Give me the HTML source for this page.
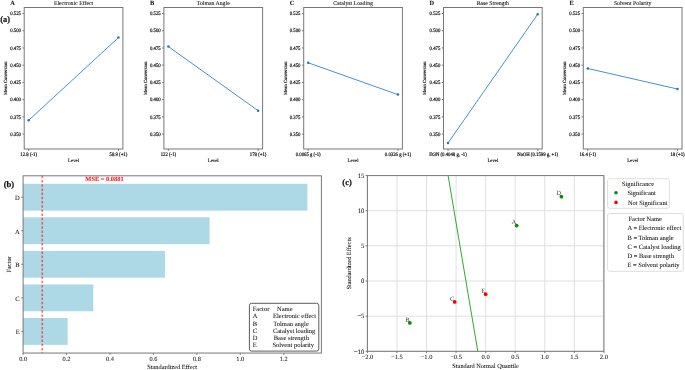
<!DOCTYPE html>
<html><head><meta charset="utf-8"><style>
html,body{margin:0;padding:0;background:#fff;width:685px;height:370px;overflow:hidden}
svg{display:block;font-family:"Liberation Serif", serif;will-change:transform;text-rendering:geometricPrecision}
</style></head><body>
<svg width="685" height="370" viewBox="0 0 685 370">
<rect x="24.20" y="7.50" width="98.70" height="141.50" fill="none" stroke="#777777" stroke-width="1.0" rx="0" />
<line x1="22.40" y1="134.09" x2="24.20" y2="134.09" stroke="#777777" stroke-width="1.0" />
<text transform="translate(21.00,135.79) scale(0.9,1)" font-size="5.3" text-anchor="end" font-weight="normal" fill="#111" stroke="#111" stroke-width="0.2" >0.350</text>
<line x1="22.40" y1="116.87" x2="24.20" y2="116.87" stroke="#777777" stroke-width="1.0" />
<text transform="translate(21.00,118.57) scale(0.9,1)" font-size="5.3" text-anchor="end" font-weight="normal" fill="#111" stroke="#111" stroke-width="0.2" >0.375</text>
<line x1="22.40" y1="99.64" x2="24.20" y2="99.64" stroke="#777777" stroke-width="1.0" />
<text transform="translate(21.00,101.34) scale(0.9,1)" font-size="5.3" text-anchor="end" font-weight="normal" fill="#111" stroke="#111" stroke-width="0.2" >0.400</text>
<line x1="22.40" y1="82.41" x2="24.20" y2="82.41" stroke="#777777" stroke-width="1.0" />
<text transform="translate(21.00,84.11) scale(0.9,1)" font-size="5.3" text-anchor="end" font-weight="normal" fill="#111" stroke="#111" stroke-width="0.2" >0.425</text>
<line x1="22.40" y1="65.18" x2="24.20" y2="65.18" stroke="#777777" stroke-width="1.0" />
<text transform="translate(21.00,66.88) scale(0.9,1)" font-size="5.3" text-anchor="end" font-weight="normal" fill="#111" stroke="#111" stroke-width="0.2" >0.450</text>
<line x1="22.40" y1="47.96" x2="24.20" y2="47.96" stroke="#777777" stroke-width="1.0" />
<text transform="translate(21.00,49.66) scale(0.9,1)" font-size="5.3" text-anchor="end" font-weight="normal" fill="#111" stroke="#111" stroke-width="0.2" >0.475</text>
<line x1="22.40" y1="30.73" x2="24.20" y2="30.73" stroke="#777777" stroke-width="1.0" />
<text transform="translate(21.00,32.43) scale(0.9,1)" font-size="5.3" text-anchor="end" font-weight="normal" fill="#111" stroke="#111" stroke-width="0.2" >0.500</text>
<line x1="22.40" y1="13.50" x2="24.20" y2="13.50" stroke="#777777" stroke-width="1.0" />
<text transform="translate(21.00,15.20) scale(0.9,1)" font-size="5.3" text-anchor="end" font-weight="normal" fill="#111" stroke="#111" stroke-width="0.2" >0.525</text>
<line x1="28.69" y1="149.00" x2="28.69" y2="150.80" stroke="#777777" stroke-width="1.0" />
<text transform="translate(28.69,155.90) scale(0.9,1)" font-size="5.3" text-anchor="middle" font-weight="normal" fill="#111" stroke="#111" stroke-width="0.2" >12.8 (-1)</text>
<line x1="118.41" y1="149.00" x2="118.41" y2="150.80" stroke="#777777" stroke-width="1.0" />
<text transform="translate(118.41,155.90) scale(0.9,1)" font-size="5.3" text-anchor="middle" font-weight="normal" fill="#111" stroke="#111" stroke-width="0.2" >58.9 (+1)</text>
<text x="73.55" y="161.60" font-size="4.8" text-anchor="middle" font-weight="normal" fill="#111" stroke="#111" stroke-width="0.15" >Level</text>
<text transform="translate(6.10,78.2) rotate(-90)" x="0" y="0" font-size="4.7" text-anchor="middle" fill="#111" stroke="#111" stroke-width="0.15" dominant-baseline="middle">Mean Conversion</text>
<text x="73.55" y="4.90" font-size="5.8" text-anchor="middle" font-weight="normal" fill="#111" stroke="#111" stroke-width="0.08" >Electronic Effect</text>
<text x="10.30" y="4.75" font-size="6.4" text-anchor="start" font-weight="bold" fill="#111" stroke="#111" stroke-width="0.05" >A</text>
<polyline points="28.69,120.31 118.41,37.62" fill="none" stroke="#4590cc" stroke-width="1.0"/>
<circle cx="28.69" cy="120.31" r="1.25" fill="#1f77b4"/>
<circle cx="118.41" cy="37.62" r="1.25" fill="#1f77b4"/>
<rect x="163.90" y="7.50" width="98.70" height="141.50" fill="none" stroke="#777777" stroke-width="1.0" rx="0" />
<line x1="162.10" y1="134.09" x2="163.90" y2="134.09" stroke="#777777" stroke-width="1.0" />
<text transform="translate(160.70,135.79) scale(0.9,1)" font-size="5.3" text-anchor="end" font-weight="normal" fill="#111" stroke="#111" stroke-width="0.2" >0.350</text>
<line x1="162.10" y1="116.87" x2="163.90" y2="116.87" stroke="#777777" stroke-width="1.0" />
<text transform="translate(160.70,118.57) scale(0.9,1)" font-size="5.3" text-anchor="end" font-weight="normal" fill="#111" stroke="#111" stroke-width="0.2" >0.375</text>
<line x1="162.10" y1="99.64" x2="163.90" y2="99.64" stroke="#777777" stroke-width="1.0" />
<text transform="translate(160.70,101.34) scale(0.9,1)" font-size="5.3" text-anchor="end" font-weight="normal" fill="#111" stroke="#111" stroke-width="0.2" >0.400</text>
<line x1="162.10" y1="82.41" x2="163.90" y2="82.41" stroke="#777777" stroke-width="1.0" />
<text transform="translate(160.70,84.11) scale(0.9,1)" font-size="5.3" text-anchor="end" font-weight="normal" fill="#111" stroke="#111" stroke-width="0.2" >0.425</text>
<line x1="162.10" y1="65.18" x2="163.90" y2="65.18" stroke="#777777" stroke-width="1.0" />
<text transform="translate(160.70,66.88) scale(0.9,1)" font-size="5.3" text-anchor="end" font-weight="normal" fill="#111" stroke="#111" stroke-width="0.2" >0.450</text>
<line x1="162.10" y1="47.96" x2="163.90" y2="47.96" stroke="#777777" stroke-width="1.0" />
<text transform="translate(160.70,49.66) scale(0.9,1)" font-size="5.3" text-anchor="end" font-weight="normal" fill="#111" stroke="#111" stroke-width="0.2" >0.475</text>
<line x1="162.10" y1="30.73" x2="163.90" y2="30.73" stroke="#777777" stroke-width="1.0" />
<text transform="translate(160.70,32.43) scale(0.9,1)" font-size="5.3" text-anchor="end" font-weight="normal" fill="#111" stroke="#111" stroke-width="0.2" >0.500</text>
<line x1="162.10" y1="13.50" x2="163.90" y2="13.50" stroke="#777777" stroke-width="1.0" />
<text transform="translate(160.70,15.20) scale(0.9,1)" font-size="5.3" text-anchor="end" font-weight="normal" fill="#111" stroke="#111" stroke-width="0.2" >0.525</text>
<line x1="168.39" y1="149.00" x2="168.39" y2="150.80" stroke="#777777" stroke-width="1.0" />
<text transform="translate(168.39,155.90) scale(0.9,1)" font-size="5.3" text-anchor="middle" font-weight="normal" fill="#111" stroke="#111" stroke-width="0.2" >122 (-1)</text>
<line x1="258.11" y1="149.00" x2="258.11" y2="150.80" stroke="#777777" stroke-width="1.0" />
<text transform="translate(258.11,155.90) scale(0.9,1)" font-size="5.3" text-anchor="middle" font-weight="normal" fill="#111" stroke="#111" stroke-width="0.2" >178 (+1)</text>
<text x="213.25" y="161.60" font-size="4.8" text-anchor="middle" font-weight="normal" fill="#111" stroke="#111" stroke-width="0.15" >Level</text>
<text transform="translate(145.80,78.2) rotate(-90)" x="0" y="0" font-size="4.7" text-anchor="middle" fill="#111" stroke="#111" stroke-width="0.15" dominant-baseline="middle">Mean Conversion</text>
<text x="213.25" y="4.90" font-size="5.8" text-anchor="middle" font-weight="normal" fill="#111" stroke="#111" stroke-width="0.08" >Tolman Angle</text>
<text x="150.00" y="4.75" font-size="6.4" text-anchor="start" font-weight="bold" fill="#111" stroke="#111" stroke-width="0.05" >B</text>
<polyline points="168.39,46.58 258.11,110.66" fill="none" stroke="#4590cc" stroke-width="1.0"/>
<circle cx="168.39" cy="46.58" r="1.25" fill="#1f77b4"/>
<circle cx="258.11" cy="110.66" r="1.25" fill="#1f77b4"/>
<rect x="303.70" y="7.50" width="98.70" height="141.50" fill="none" stroke="#777777" stroke-width="1.0" rx="0" />
<line x1="301.90" y1="134.09" x2="303.70" y2="134.09" stroke="#777777" stroke-width="1.0" />
<text transform="translate(300.50,135.79) scale(0.9,1)" font-size="5.3" text-anchor="end" font-weight="normal" fill="#111" stroke="#111" stroke-width="0.2" >0.350</text>
<line x1="301.90" y1="116.87" x2="303.70" y2="116.87" stroke="#777777" stroke-width="1.0" />
<text transform="translate(300.50,118.57) scale(0.9,1)" font-size="5.3" text-anchor="end" font-weight="normal" fill="#111" stroke="#111" stroke-width="0.2" >0.375</text>
<line x1="301.90" y1="99.64" x2="303.70" y2="99.64" stroke="#777777" stroke-width="1.0" />
<text transform="translate(300.50,101.34) scale(0.9,1)" font-size="5.3" text-anchor="end" font-weight="normal" fill="#111" stroke="#111" stroke-width="0.2" >0.400</text>
<line x1="301.90" y1="82.41" x2="303.70" y2="82.41" stroke="#777777" stroke-width="1.0" />
<text transform="translate(300.50,84.11) scale(0.9,1)" font-size="5.3" text-anchor="end" font-weight="normal" fill="#111" stroke="#111" stroke-width="0.2" >0.425</text>
<line x1="301.90" y1="65.18" x2="303.70" y2="65.18" stroke="#777777" stroke-width="1.0" />
<text transform="translate(300.50,66.88) scale(0.9,1)" font-size="5.3" text-anchor="end" font-weight="normal" fill="#111" stroke="#111" stroke-width="0.2" >0.450</text>
<line x1="301.90" y1="47.96" x2="303.70" y2="47.96" stroke="#777777" stroke-width="1.0" />
<text transform="translate(300.50,49.66) scale(0.9,1)" font-size="5.3" text-anchor="end" font-weight="normal" fill="#111" stroke="#111" stroke-width="0.2" >0.475</text>
<line x1="301.90" y1="30.73" x2="303.70" y2="30.73" stroke="#777777" stroke-width="1.0" />
<text transform="translate(300.50,32.43) scale(0.9,1)" font-size="5.3" text-anchor="end" font-weight="normal" fill="#111" stroke="#111" stroke-width="0.2" >0.500</text>
<line x1="301.90" y1="13.50" x2="303.70" y2="13.50" stroke="#777777" stroke-width="1.0" />
<text transform="translate(300.50,15.20) scale(0.9,1)" font-size="5.3" text-anchor="end" font-weight="normal" fill="#111" stroke="#111" stroke-width="0.2" >0.525</text>
<line x1="308.19" y1="149.00" x2="308.19" y2="150.80" stroke="#777777" stroke-width="1.0" />
<text transform="translate(308.19,155.90) scale(0.9,1)" font-size="5.3" text-anchor="middle" font-weight="normal" fill="#111" stroke="#111" stroke-width="0.2" >0.0065 g (-1)</text>
<line x1="397.91" y1="149.00" x2="397.91" y2="150.80" stroke="#777777" stroke-width="1.0" />
<text transform="translate(397.91,155.90) scale(0.9,1)" font-size="5.3" text-anchor="middle" font-weight="normal" fill="#111" stroke="#111" stroke-width="0.2" >0.0326 g (+1)</text>
<text x="353.05" y="161.60" font-size="4.8" text-anchor="middle" font-weight="normal" fill="#111" stroke="#111" stroke-width="0.15" >Level</text>
<text transform="translate(285.60,78.2) rotate(-90)" x="0" y="0" font-size="4.7" text-anchor="middle" fill="#111" stroke="#111" stroke-width="0.15" dominant-baseline="middle">Mean Conversion</text>
<text x="353.05" y="4.90" font-size="5.8" text-anchor="middle" font-weight="normal" fill="#111" stroke="#111" stroke-width="0.08" >Catalyst Loading</text>
<text x="289.80" y="4.75" font-size="6.4" text-anchor="start" font-weight="bold" fill="#111" stroke="#111" stroke-width="0.05" >C</text>
<polyline points="308.19,62.77 397.91,94.61" fill="none" stroke="#4590cc" stroke-width="1.0"/>
<circle cx="308.19" cy="62.77" r="1.25" fill="#1f77b4"/>
<circle cx="397.91" cy="94.61" r="1.25" fill="#1f77b4"/>
<rect x="443.50" y="7.50" width="98.70" height="141.50" fill="none" stroke="#777777" stroke-width="1.0" rx="0" />
<line x1="441.70" y1="134.09" x2="443.50" y2="134.09" stroke="#777777" stroke-width="1.0" />
<text transform="translate(440.30,135.79) scale(0.9,1)" font-size="5.3" text-anchor="end" font-weight="normal" fill="#111" stroke="#111" stroke-width="0.2" >0.350</text>
<line x1="441.70" y1="116.87" x2="443.50" y2="116.87" stroke="#777777" stroke-width="1.0" />
<text transform="translate(440.30,118.57) scale(0.9,1)" font-size="5.3" text-anchor="end" font-weight="normal" fill="#111" stroke="#111" stroke-width="0.2" >0.375</text>
<line x1="441.70" y1="99.64" x2="443.50" y2="99.64" stroke="#777777" stroke-width="1.0" />
<text transform="translate(440.30,101.34) scale(0.9,1)" font-size="5.3" text-anchor="end" font-weight="normal" fill="#111" stroke="#111" stroke-width="0.2" >0.400</text>
<line x1="441.70" y1="82.41" x2="443.50" y2="82.41" stroke="#777777" stroke-width="1.0" />
<text transform="translate(440.30,84.11) scale(0.9,1)" font-size="5.3" text-anchor="end" font-weight="normal" fill="#111" stroke="#111" stroke-width="0.2" >0.425</text>
<line x1="441.70" y1="65.18" x2="443.50" y2="65.18" stroke="#777777" stroke-width="1.0" />
<text transform="translate(440.30,66.88) scale(0.9,1)" font-size="5.3" text-anchor="end" font-weight="normal" fill="#111" stroke="#111" stroke-width="0.2" >0.450</text>
<line x1="441.70" y1="47.96" x2="443.50" y2="47.96" stroke="#777777" stroke-width="1.0" />
<text transform="translate(440.30,49.66) scale(0.9,1)" font-size="5.3" text-anchor="end" font-weight="normal" fill="#111" stroke="#111" stroke-width="0.2" >0.475</text>
<line x1="441.70" y1="30.73" x2="443.50" y2="30.73" stroke="#777777" stroke-width="1.0" />
<text transform="translate(440.30,32.43) scale(0.9,1)" font-size="5.3" text-anchor="end" font-weight="normal" fill="#111" stroke="#111" stroke-width="0.2" >0.500</text>
<line x1="441.70" y1="13.50" x2="443.50" y2="13.50" stroke="#777777" stroke-width="1.0" />
<text transform="translate(440.30,15.20) scale(0.9,1)" font-size="5.3" text-anchor="end" font-weight="normal" fill="#111" stroke="#111" stroke-width="0.2" >0.525</text>
<line x1="447.99" y1="149.00" x2="447.99" y2="150.80" stroke="#777777" stroke-width="1.0" />
<text transform="translate(447.99,155.90) scale(0.9,1)" font-size="5.3" text-anchor="middle" font-weight="normal" fill="#111" stroke="#111" stroke-width="0.2" >Et3N (0.4048 g, -1)</text>
<line x1="537.71" y1="149.00" x2="537.71" y2="150.80" stroke="#777777" stroke-width="1.0" />
<text transform="translate(537.71,155.90) scale(0.9,1)" font-size="5.3" text-anchor="middle" font-weight="normal" fill="#111" stroke="#111" stroke-width="0.2" >NaOH (0.1599 g, +1)</text>
<text x="492.85" y="161.60" font-size="4.8" text-anchor="middle" font-weight="normal" fill="#111" stroke="#111" stroke-width="0.15" >Level</text>
<text transform="translate(425.40,78.2) rotate(-90)" x="0" y="0" font-size="4.7" text-anchor="middle" fill="#111" stroke="#111" stroke-width="0.15" dominant-baseline="middle">Mean Conversion</text>
<text x="492.85" y="4.90" font-size="5.8" text-anchor="middle" font-weight="normal" fill="#111" stroke="#111" stroke-width="0.08" >Base Strength</text>
<text x="429.60" y="4.75" font-size="6.4" text-anchor="start" font-weight="bold" fill="#111" stroke="#111" stroke-width="0.05" >D</text>
<polyline points="447.99,143.05 537.71,14.19" fill="none" stroke="#4590cc" stroke-width="1.0"/>
<circle cx="447.99" cy="143.05" r="1.25" fill="#1f77b4"/>
<circle cx="537.71" cy="14.19" r="1.25" fill="#1f77b4"/>
<rect x="583.30" y="7.50" width="98.70" height="141.50" fill="none" stroke="#777777" stroke-width="1.0" rx="0" />
<line x1="581.50" y1="134.09" x2="583.30" y2="134.09" stroke="#777777" stroke-width="1.0" />
<text transform="translate(580.10,135.79) scale(0.9,1)" font-size="5.3" text-anchor="end" font-weight="normal" fill="#111" stroke="#111" stroke-width="0.2" >0.350</text>
<line x1="581.50" y1="116.87" x2="583.30" y2="116.87" stroke="#777777" stroke-width="1.0" />
<text transform="translate(580.10,118.57) scale(0.9,1)" font-size="5.3" text-anchor="end" font-weight="normal" fill="#111" stroke="#111" stroke-width="0.2" >0.375</text>
<line x1="581.50" y1="99.64" x2="583.30" y2="99.64" stroke="#777777" stroke-width="1.0" />
<text transform="translate(580.10,101.34) scale(0.9,1)" font-size="5.3" text-anchor="end" font-weight="normal" fill="#111" stroke="#111" stroke-width="0.2" >0.400</text>
<line x1="581.50" y1="82.41" x2="583.30" y2="82.41" stroke="#777777" stroke-width="1.0" />
<text transform="translate(580.10,84.11) scale(0.9,1)" font-size="5.3" text-anchor="end" font-weight="normal" fill="#111" stroke="#111" stroke-width="0.2" >0.425</text>
<line x1="581.50" y1="65.18" x2="583.30" y2="65.18" stroke="#777777" stroke-width="1.0" />
<text transform="translate(580.10,66.88) scale(0.9,1)" font-size="5.3" text-anchor="end" font-weight="normal" fill="#111" stroke="#111" stroke-width="0.2" >0.450</text>
<line x1="581.50" y1="47.96" x2="583.30" y2="47.96" stroke="#777777" stroke-width="1.0" />
<text transform="translate(580.10,49.66) scale(0.9,1)" font-size="5.3" text-anchor="end" font-weight="normal" fill="#111" stroke="#111" stroke-width="0.2" >0.475</text>
<line x1="581.50" y1="30.73" x2="583.30" y2="30.73" stroke="#777777" stroke-width="1.0" />
<text transform="translate(580.10,32.43) scale(0.9,1)" font-size="5.3" text-anchor="end" font-weight="normal" fill="#111" stroke="#111" stroke-width="0.2" >0.500</text>
<line x1="581.50" y1="13.50" x2="583.30" y2="13.50" stroke="#777777" stroke-width="1.0" />
<text transform="translate(580.10,15.20) scale(0.9,1)" font-size="5.3" text-anchor="end" font-weight="normal" fill="#111" stroke="#111" stroke-width="0.2" >0.525</text>
<line x1="587.79" y1="149.00" x2="587.79" y2="150.80" stroke="#777777" stroke-width="1.0" />
<text transform="translate(587.79,155.90) scale(0.9,1)" font-size="5.3" text-anchor="middle" font-weight="normal" fill="#111" stroke="#111" stroke-width="0.2" >16.4 (-1)</text>
<line x1="677.51" y1="149.00" x2="677.51" y2="150.80" stroke="#777777" stroke-width="1.0" />
<text transform="translate(677.51,155.90) scale(0.9,1)" font-size="5.3" text-anchor="middle" font-weight="normal" fill="#111" stroke="#111" stroke-width="0.2" >18 (+1)</text>
<text x="632.65" y="161.60" font-size="4.8" text-anchor="middle" font-weight="normal" fill="#111" stroke="#111" stroke-width="0.15" >Level</text>
<text transform="translate(565.20,78.2) rotate(-90)" x="0" y="0" font-size="4.7" text-anchor="middle" fill="#111" stroke="#111" stroke-width="0.15" dominant-baseline="middle">Mean Conversion</text>
<text x="632.65" y="4.90" font-size="5.8" text-anchor="middle" font-weight="normal" fill="#111" stroke="#111" stroke-width="0.08" >Solvent Polarity</text>
<text x="569.40" y="4.75" font-size="6.4" text-anchor="start" font-weight="bold" fill="#111" stroke="#111" stroke-width="0.05" >E</text>
<polyline points="587.79,68.49 677.51,89.03" fill="none" stroke="#4590cc" stroke-width="1.0"/>
<circle cx="587.79" cy="68.49" r="1.25" fill="#1f77b4"/>
<circle cx="677.51" cy="89.03" r="1.25" fill="#1f77b4"/>
<text x="0.20" y="22.00" font-size="8.5" text-anchor="start" font-weight="bold" fill="#111" stroke="#111" stroke-width="0.2" >(a)</text>
<rect x="23.10" y="183.78" width="284.31" height="26.84" fill="#add8e6" stroke="none" stroke-width="0" rx="0" />
<line x1="21.30" y1="197.20" x2="23.10" y2="197.20" stroke="#777777" stroke-width="1.0" />
<text x="19.70" y="200.15" font-size="6.5" text-anchor="end" font-weight="normal" fill="#111" stroke="#111" stroke-width="0.05" >D</text>
<rect x="23.10" y="217.33" width="186.47" height="26.84" fill="#add8e6" stroke="none" stroke-width="0" rx="0" />
<line x1="21.30" y1="230.75" x2="23.10" y2="230.75" stroke="#777777" stroke-width="1.0" />
<text x="19.70" y="233.70" font-size="6.5" text-anchor="end" font-weight="normal" fill="#111" stroke="#111" stroke-width="0.05" >A</text>
<rect x="23.10" y="250.88" width="141.83" height="26.84" fill="#add8e6" stroke="none" stroke-width="0" rx="0" />
<line x1="21.30" y1="264.30" x2="23.10" y2="264.30" stroke="#777777" stroke-width="1.0" />
<text x="19.70" y="267.24" font-size="6.5" text-anchor="end" font-weight="normal" fill="#111" stroke="#111" stroke-width="0.05" >B</text>
<rect x="23.10" y="284.43" width="70.16" height="26.84" fill="#add8e6" stroke="none" stroke-width="0" rx="0" />
<line x1="21.30" y1="297.85" x2="23.10" y2="297.85" stroke="#777777" stroke-width="1.0" />
<text x="19.70" y="300.79" font-size="6.5" text-anchor="end" font-weight="normal" fill="#111" stroke="#111" stroke-width="0.05" >C</text>
<rect x="23.10" y="317.98" width="44.55" height="26.84" fill="#add8e6" stroke="none" stroke-width="0" rx="0" />
<line x1="21.30" y1="331.40" x2="23.10" y2="331.40" stroke="#777777" stroke-width="1.0" />
<text x="19.70" y="334.34" font-size="6.5" text-anchor="end" font-weight="normal" fill="#111" stroke="#111" stroke-width="0.05" >E</text>
<rect x="23.10" y="175.80" width="298.30" height="177.25" fill="none" stroke="#777777" stroke-width="1.0" rx="0" />
<line x1="23.10" y1="353.05" x2="23.10" y2="354.85" stroke="#777777" stroke-width="1.0" />
<text x="23.10" y="361.30" font-size="6.3" text-anchor="middle" font-weight="normal" fill="#111" stroke="#111" stroke-width="0.05" >0.0</text>
<line x1="66.54" y1="353.05" x2="66.54" y2="354.85" stroke="#777777" stroke-width="1.0" />
<text x="66.54" y="361.30" font-size="6.3" text-anchor="middle" font-weight="normal" fill="#111" stroke="#111" stroke-width="0.05" >0.2</text>
<line x1="109.98" y1="353.05" x2="109.98" y2="354.85" stroke="#777777" stroke-width="1.0" />
<text x="109.98" y="361.30" font-size="6.3" text-anchor="middle" font-weight="normal" fill="#111" stroke="#111" stroke-width="0.05" >0.4</text>
<line x1="153.42" y1="353.05" x2="153.42" y2="354.85" stroke="#777777" stroke-width="1.0" />
<text x="153.42" y="361.30" font-size="6.3" text-anchor="middle" font-weight="normal" fill="#111" stroke="#111" stroke-width="0.05" >0.6</text>
<line x1="196.86" y1="353.05" x2="196.86" y2="354.85" stroke="#777777" stroke-width="1.0" />
<text x="196.86" y="361.30" font-size="6.3" text-anchor="middle" font-weight="normal" fill="#111" stroke="#111" stroke-width="0.05" >0.8</text>
<line x1="240.30" y1="353.05" x2="240.30" y2="354.85" stroke="#777777" stroke-width="1.0" />
<text x="240.30" y="361.30" font-size="6.3" text-anchor="middle" font-weight="normal" fill="#111" stroke="#111" stroke-width="0.05" >1.0</text>
<line x1="283.74" y1="353.05" x2="283.74" y2="354.85" stroke="#777777" stroke-width="1.0" />
<text x="283.74" y="361.30" font-size="6.3" text-anchor="middle" font-weight="normal" fill="#111" stroke="#111" stroke-width="0.05" >1.2</text>
<line x1="42.24" y1="175.80" x2="42.24" y2="353.05" stroke="rgba(255,0,0,0.55)" stroke-width="1.6" stroke-dasharray="2.5,1.7"/>
<text x="104.50" y="180.90" font-size="6.4" text-anchor="middle" font-weight="bold" fill="#ff2020" stroke="#ff2020" stroke-width="0.1" >MSE = 0.0881</text>
<rect x="249.40" y="303.30" width="69.40" height="47.80" fill="white" stroke="#333" stroke-width="0.8" rx="2.2" />
<text x="252.70" y="311.45" font-size="6.5" text-anchor="start" font-weight="normal" fill="#111" stroke="#111" stroke-width="0.05" >Factor</text>
<text x="277.00" y="311.45" font-size="6.5" text-anchor="start" font-weight="normal" fill="#111" stroke="#111" stroke-width="0.05" >Name</text>
<text x="252.70" y="318.49" font-size="6.5" text-anchor="start" font-weight="normal" fill="#111" stroke="#111" stroke-width="0.05" >A</text>
<text x="273.00" y="318.49" font-size="6.5" text-anchor="start" font-weight="normal" fill="#111" stroke="#111" stroke-width="0.05" >Electronic effect</text>
<text x="252.70" y="325.53" font-size="6.5" text-anchor="start" font-weight="normal" fill="#111" stroke="#111" stroke-width="0.05" >B</text>
<text x="273.30" y="325.53" font-size="6.5" text-anchor="start" font-weight="normal" fill="#111" stroke="#111" stroke-width="0.05" >Tolman angle</text>
<text x="252.70" y="332.57" font-size="6.5" text-anchor="start" font-weight="normal" fill="#111" stroke="#111" stroke-width="0.05" >C</text>
<text x="272.90" y="332.57" font-size="6.5" text-anchor="start" font-weight="normal" fill="#111" stroke="#111" stroke-width="0.05" >Catalyst loading</text>
<text x="252.70" y="339.61" font-size="6.5" text-anchor="start" font-weight="normal" fill="#111" stroke="#111" stroke-width="0.05" >D</text>
<text x="273.70" y="339.61" font-size="6.5" text-anchor="start" font-weight="normal" fill="#111" stroke="#111" stroke-width="0.05" >Base strength</text>
<text x="252.70" y="346.65" font-size="6.5" text-anchor="start" font-weight="normal" fill="#111" stroke="#111" stroke-width="0.05" >E</text>
<text x="272.40" y="346.65" font-size="6.5" text-anchor="start" font-weight="normal" fill="#111" stroke="#111" stroke-width="0.05" >Solvent polarity</text>
<text transform="translate(9.3,264.4) rotate(-90)" font-size="6.3" text-anchor="middle" fill="#111" stroke="#111" stroke-width="0.08" dominant-baseline="middle">Factor</text>
<text x="172.20" y="369.40" font-size="6.3" text-anchor="middle" font-weight="normal" fill="#111" stroke="#111" stroke-width="0.05" >Standardized Effect</text>
<text x="3.70" y="186.60" font-size="8.5" text-anchor="start" font-weight="bold" fill="#111" stroke="#111" stroke-width="0.2" >(b)</text>
<line x1="367.40" y1="175.60" x2="367.40" y2="351.30" stroke="#dcdcdc" stroke-width="0.9" />
<line x1="396.96" y1="175.60" x2="396.96" y2="351.30" stroke="#dcdcdc" stroke-width="0.9" />
<line x1="426.52" y1="175.60" x2="426.52" y2="351.30" stroke="#dcdcdc" stroke-width="0.9" />
<line x1="456.09" y1="175.60" x2="456.09" y2="351.30" stroke="#dcdcdc" stroke-width="0.9" />
<line x1="485.65" y1="175.60" x2="485.65" y2="351.30" stroke="#dcdcdc" stroke-width="0.9" />
<line x1="515.21" y1="175.60" x2="515.21" y2="351.30" stroke="#dcdcdc" stroke-width="0.9" />
<line x1="544.77" y1="175.60" x2="544.77" y2="351.30" stroke="#dcdcdc" stroke-width="0.9" />
<line x1="574.34" y1="175.60" x2="574.34" y2="351.30" stroke="#dcdcdc" stroke-width="0.9" />
<line x1="603.90" y1="175.60" x2="603.90" y2="351.30" stroke="#dcdcdc" stroke-width="0.9" />
<line x1="367.40" y1="351.30" x2="603.90" y2="351.30" stroke="#dcdcdc" stroke-width="0.9" />
<line x1="367.40" y1="316.15" x2="603.90" y2="316.15" stroke="#dcdcdc" stroke-width="0.9" />
<line x1="367.40" y1="281.00" x2="603.90" y2="281.00" stroke="#dcdcdc" stroke-width="0.9" />
<line x1="367.40" y1="245.85" x2="603.90" y2="245.85" stroke="#dcdcdc" stroke-width="0.9" />
<line x1="367.40" y1="210.70" x2="603.90" y2="210.70" stroke="#dcdcdc" stroke-width="0.9" />
<line x1="367.40" y1="175.55" x2="603.90" y2="175.55" stroke="#dcdcdc" stroke-width="0.9" />
<rect x="367.40" y="175.60" width="236.50" height="175.70" fill="none" stroke="#777777" stroke-width="1.0" rx="0" />
<line x1="367.40" y1="351.30" x2="367.40" y2="353.10" stroke="#777777" stroke-width="1.0" />
<text x="367.40" y="359.40" font-size="6.5" text-anchor="middle" font-weight="normal" fill="#111" stroke="#111" stroke-width="0.05" >−2.0</text>
<line x1="396.96" y1="351.30" x2="396.96" y2="353.10" stroke="#777777" stroke-width="1.0" />
<text x="396.96" y="359.40" font-size="6.5" text-anchor="middle" font-weight="normal" fill="#111" stroke="#111" stroke-width="0.05" >−1.5</text>
<line x1="426.52" y1="351.30" x2="426.52" y2="353.10" stroke="#777777" stroke-width="1.0" />
<text x="426.52" y="359.40" font-size="6.5" text-anchor="middle" font-weight="normal" fill="#111" stroke="#111" stroke-width="0.05" >−1.0</text>
<line x1="456.09" y1="351.30" x2="456.09" y2="353.10" stroke="#777777" stroke-width="1.0" />
<text x="456.09" y="359.40" font-size="6.5" text-anchor="middle" font-weight="normal" fill="#111" stroke="#111" stroke-width="0.05" >−0.5</text>
<line x1="485.65" y1="351.30" x2="485.65" y2="353.10" stroke="#777777" stroke-width="1.0" />
<text x="485.65" y="359.40" font-size="6.5" text-anchor="middle" font-weight="normal" fill="#111" stroke="#111" stroke-width="0.05" >0.0</text>
<line x1="515.21" y1="351.30" x2="515.21" y2="353.10" stroke="#777777" stroke-width="1.0" />
<text x="515.21" y="359.40" font-size="6.5" text-anchor="middle" font-weight="normal" fill="#111" stroke="#111" stroke-width="0.05" >0.5</text>
<line x1="544.77" y1="351.30" x2="544.77" y2="353.10" stroke="#777777" stroke-width="1.0" />
<text x="544.77" y="359.40" font-size="6.5" text-anchor="middle" font-weight="normal" fill="#111" stroke="#111" stroke-width="0.05" >1.0</text>
<line x1="574.34" y1="351.30" x2="574.34" y2="353.10" stroke="#777777" stroke-width="1.0" />
<text x="574.34" y="359.40" font-size="6.5" text-anchor="middle" font-weight="normal" fill="#111" stroke="#111" stroke-width="0.05" >1.5</text>
<line x1="603.90" y1="351.30" x2="603.90" y2="353.10" stroke="#777777" stroke-width="1.0" />
<text x="603.90" y="359.40" font-size="6.5" text-anchor="middle" font-weight="normal" fill="#111" stroke="#111" stroke-width="0.05" >2.0</text>
<line x1="365.60" y1="351.30" x2="367.40" y2="351.30" stroke="#777777" stroke-width="1.0" />
<text x="364.40" y="353.50" font-size="6.6" text-anchor="end" font-weight="normal" fill="#111" stroke="#111" stroke-width="0.05" >−10</text>
<line x1="365.60" y1="316.15" x2="367.40" y2="316.15" stroke="#777777" stroke-width="1.0" />
<text x="364.40" y="318.35" font-size="6.6" text-anchor="end" font-weight="normal" fill="#111" stroke="#111" stroke-width="0.05" >−5</text>
<line x1="365.60" y1="281.00" x2="367.40" y2="281.00" stroke="#777777" stroke-width="1.0" />
<text x="364.40" y="283.20" font-size="6.6" text-anchor="end" font-weight="normal" fill="#111" stroke="#111" stroke-width="0.05" >0</text>
<line x1="365.60" y1="245.85" x2="367.40" y2="245.85" stroke="#777777" stroke-width="1.0" />
<text x="364.40" y="248.05" font-size="6.6" text-anchor="end" font-weight="normal" fill="#111" stroke="#111" stroke-width="0.05" >5</text>
<line x1="365.60" y1="210.70" x2="367.40" y2="210.70" stroke="#777777" stroke-width="1.0" />
<text x="364.40" y="212.90" font-size="6.6" text-anchor="end" font-weight="normal" fill="#111" stroke="#111" stroke-width="0.05" >10</text>
<line x1="365.60" y1="175.55" x2="367.40" y2="175.55" stroke="#777777" stroke-width="1.0" />
<text x="364.40" y="177.75" font-size="6.6" text-anchor="end" font-weight="normal" fill="#111" stroke="#111" stroke-width="0.05" >15</text>
<line x1="448.10" y1="175.60" x2="477.80" y2="351.30" stroke="#35a535" stroke-width="1.0" />
<circle cx="409.88" cy="322.90" r="1.9" fill="#0a8a0a"/>
<text x="409.58" y="321.50" font-size="6.6" text-anchor="end" font-weight="normal" fill="#444" >B</text>
<circle cx="454.64" cy="301.95" r="1.9" fill="#ff0000"/>
<text x="454.34" y="300.55" font-size="6.6" text-anchor="end" font-weight="normal" fill="#444" >C</text>
<circle cx="485.65" cy="294.22" r="1.9" fill="#ff0000"/>
<text x="485.35" y="292.82" font-size="6.6" text-anchor="end" font-weight="normal" fill="#444" >E</text>
<circle cx="516.66" cy="225.60" r="1.9" fill="#0a8a0a"/>
<text x="516.36" y="224.20" font-size="6.6" text-anchor="end" font-weight="normal" fill="#444" >A</text>
<circle cx="561.42" cy="196.64" r="1.9" fill="#0a8a0a"/>
<text x="561.12" y="195.24" font-size="6.6" text-anchor="end" font-weight="normal" fill="#444" >D</text>
<text x="485.60" y="367.60" font-size="6.3" text-anchor="middle" font-weight="normal" fill="#111" stroke="#111" stroke-width="0.05" >Standard Normal Quantile</text>
<text transform="translate(349.3,263.5) rotate(-90)" font-size="6.3" text-anchor="middle" fill="#111" stroke="#111" stroke-width="0.08" dominant-baseline="middle">Standardized Effects</text>
<text x="342.30" y="184.80" font-size="8.5" text-anchor="start" font-weight="bold" fill="#111" stroke="#111" stroke-width="0.2" >(c)</text>
<rect x="607.50" y="178.70" width="61.80" height="29.60" fill="white" stroke="#d6d6d6" stroke-width="0.8" rx="2" />
<text x="638.00" y="186.15" font-size="6.45" text-anchor="middle" font-weight="normal" fill="#111" stroke="#111" stroke-width="0.05" >Significance</text>
<circle cx="616.00" cy="192.70" r="1.8" fill="#0a8a0a"/>
<text x="627.50" y="194.85" font-size="6.45" text-anchor="start" font-weight="normal" fill="#111" stroke="#111" stroke-width="0.05" >Significant</text>
<circle cx="616.00" cy="202.40" r="1.8" fill="#ff0000"/>
<text x="627.90" y="204.55" font-size="6.45" text-anchor="start" font-weight="normal" fill="#111" stroke="#111" stroke-width="0.05" >Not Significant</text>
<rect x="607.60" y="213.50" width="75.70" height="57.80" fill="white" stroke="#d6d6d6" stroke-width="0.8" rx="2" />
<text x="645.20" y="220.75" font-size="6.45" text-anchor="middle" font-weight="normal" fill="#111" stroke="#111" stroke-width="0.05" >Factor Name</text>
<text x="627.50" y="230.45" font-size="6.45" text-anchor="start" font-weight="normal" fill="#111" stroke="#111" stroke-width="0.05" >A = Electronic effect</text>
<text x="627.50" y="239.68" font-size="6.45" text-anchor="start" font-weight="normal" fill="#111" stroke="#111" stroke-width="0.05" >B = Tolman angle</text>
<text x="627.50" y="248.90" font-size="6.45" text-anchor="start" font-weight="normal" fill="#111" stroke="#111" stroke-width="0.05" >C = Catalyst loading</text>
<text x="627.50" y="258.12" font-size="6.45" text-anchor="start" font-weight="normal" fill="#111" stroke="#111" stroke-width="0.05" >D = Base strength</text>
<text x="627.50" y="267.35" font-size="6.45" text-anchor="start" font-weight="normal" fill="#111" stroke="#111" stroke-width="0.05" >E = Solvent polarity</text>
</svg>
</body></html>
